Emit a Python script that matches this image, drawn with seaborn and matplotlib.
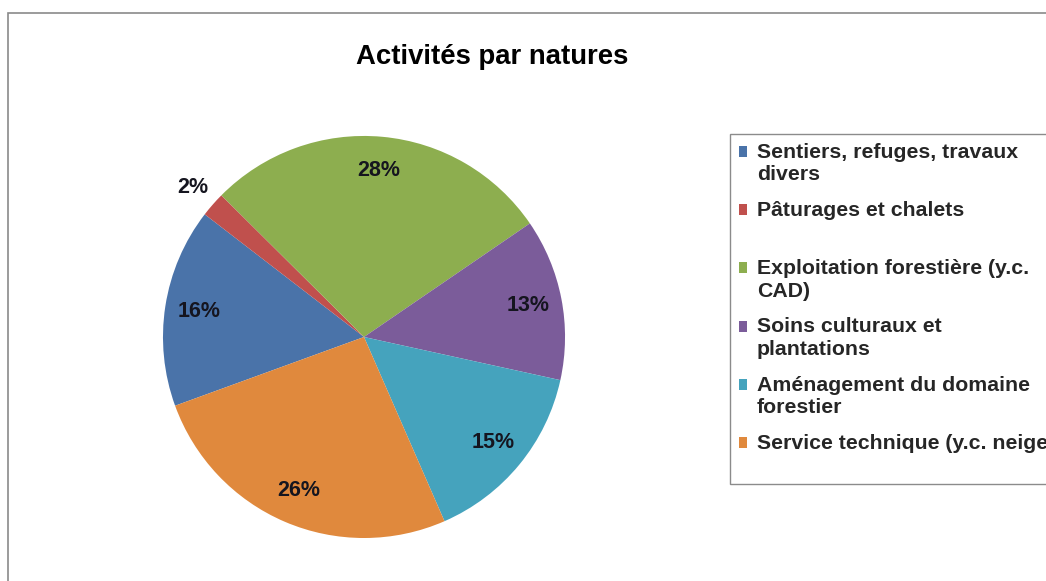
import numpy as np
import pandas as pd
import matplotlib.pyplot as plt
import seaborn as sns
from matplotlib.patches import Rectangle
from matplotlib.legend_handler import HandlerPatch

sns.set_theme(style='white')
plt.rcParams['font.family'] = ['Liberation Sans', 'DejaVu Sans']

# data
categories = ['Sentiers, refuges, travaux\ndivers',
              'Pâturages et chalets\n ',
              'Exploitation forestière (y.c.\nCAD)',
              'Soins culturaux et\nplantations',
              'Aménagement du domaine\nforestier',
              'Service technique (y.c. neige)\n ']
shares = [16, 2, 28, 13, 15, 26]
colors = ['#4a73a9', '#c0504d', '#8dae4f', '#7b5c9a', '#45a3bd', '#e0893d']

df = pd.DataFrame({'nature': categories, 'part': shares})

leg_size = 15.3
leg_linespacing = 1.26

fig = plt.figure(figsize=(10.46, 5.81), dpi=100)
fig.patch.set_facecolor('white')

# chart border (cropped screenshot: only top and left edges visible)
fig.patches.append(Rectangle((8/1046, -0.1), 1.2, 1 - 13/581 + 0.1, transform=fig.transFigure,
                             fill=False, edgecolor='#8a8a8a', linewidth=1.2))

ax = fig.add_axes([0.155, 0.074, 0.386, 0.692])
wedges, texts, autotexts = ax.pie(df['part'], colors=colors, startangle=-160, counterclock=False,
                                  autopct='%1.0f%%', pctdistance=0.83,
                                  wedgeprops=dict(linewidth=0),
                                  textprops=dict(fontsize=15.5, fontweight='bold', color='#15151f'))
ax.set_xlim(-1, 1)
ax.set_ylim(-1, 1)

# tiny slice: label outside like Excel does
for w, t, v in zip(wedges, autotexts, df['part']):
    if v < 5:
        mid = np.deg2rad((w.theta1 + w.theta2) / 2)
        t.set_position((1.13 * np.cos(mid), 1.13 * np.sin(mid)))

fig.text(492/1046, 1 - 57/581, 'Activités par natures', ha='center', va='center',
         fontsize=19.8, fontweight='bold', color='black')


# square marker next to the first line of a two-line label
def square_top(legend, orig_handle, xdescent, ydescent, width, height, fontsize):
    shift = 0.9 * leg_linespacing * fontsize / 2
    return Rectangle((-xdescent, -ydescent + shift), width, height)


leg = fig.legend(wedges, df['nature'], loc='upper left',
                 bbox_to_anchor=(730/1046, 1 - 134/581), borderaxespad=0,
                 prop=dict(size=leg_size, weight='bold'), frameon=True, fancybox=False,
                 handlelength=0.42, handleheight=0.42, handletextpad=0.45,
                 borderpad=0.4, labelspacing=0.77,
                 handler_map={w: HandlerPatch(patch_func=square_top) for w in wedges})
for t in leg.get_texts():
    t.set_linespacing(leg_linespacing)
leg.get_frame().set_edgecolor('#6e6e6e')
leg.get_frame().set_linewidth(1.0)

plt.savefig('out.png', dpi=100)
